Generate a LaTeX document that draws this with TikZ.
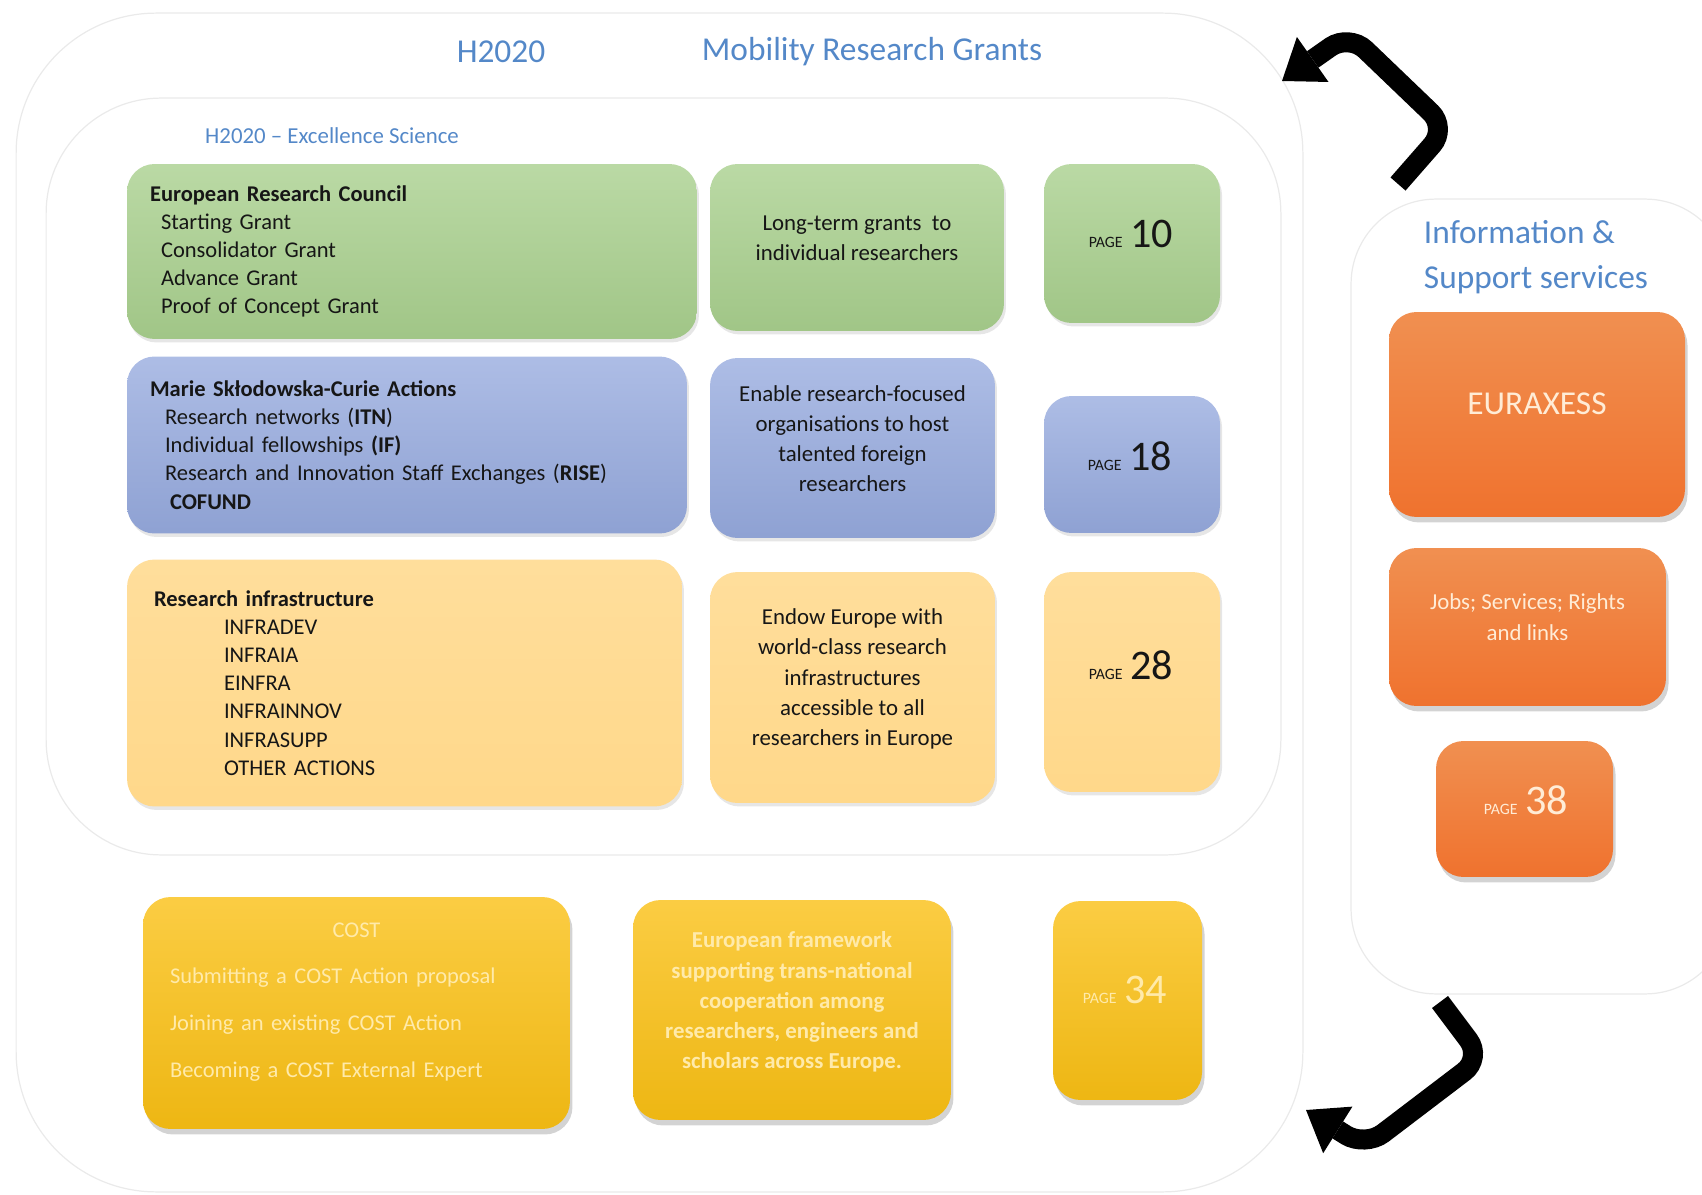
\documentclass[tikz,border=0pt]{standalone}
\usepackage{fontspec}
\setmainfont{Carlito}
\usetikzlibrary{arrows.meta,shadows}
\definecolor{titleblue}{RGB}{84,136,200}
\definecolor{framegray}{RGB}{234,234,234}
\definecolor{inkdark}{RGB}{22,22,22}
\definecolor{ercgreen}{RGB}{169,208,142}
\definecolor{mscablue}{RGB}{150,170,222}
\definecolor{infrayellow}{RGB}{255,216,138}
\definecolor{costgold}{RGB}{250,192,20}
\definecolor{euraxorange}{RGB}{238,124,50}
\definecolor{creamtxt}{RGB}{255,236,214}
\definecolor{costtxt}{RGB}{255,234,170}

\newcommand{\pagetag}[1]{{\fontsize{9}{10}\selectfont PAGE}\hspace{0.16cm}{\fontsize{24}{26}\selectfont #1}}

\begin{document}
\begin{tikzpicture}[x=0.02cm, y=-0.02cm,
    panel/.style={draw=framegray, line width=0.7pt},
    card/.style={rounded corners=0.55cm, inner sep=0pt,
      drop shadow={opacity=0.2, shadow xshift=0.04cm, shadow yshift=-0.07cm}},
    deepcard/.style={rounded corners=0.55cm, inner sep=0pt,
      drop shadow={opacity=0.35, shadow xshift=0.05cm, shadow yshift=-0.11cm}},
    listcard/.style={card, align=left, inner xsep=0.46cm, text=inkdark, font=\fontsize{12.8}{16}\selectfont},
    desctxt/.style={align=center, text=inkdark, font=\fontsize{13}{17.2}\selectfont},
    ercfill/.style={top color=ercgreen!80!white, bottom color=ercgreen!95!black},
    mscafill/.style={top color=mscablue!78!white, bottom color=mscablue!95!black},
    infrafill/.style={top color=infrayellow!85!white, bottom color=infrayellow},
    costfill/.style={top color=costgold!80!white, bottom color=costgold!95!black},
    euraxfill/.style={top color=euraxorange!85!white, bottom color=euraxorange!92!red},
    titletxt/.style={text=titleblue, font=\fontsize{19}{26}\selectfont},
    turnarrow/.style={line width=0.4cm, rounded corners=0.45cm,
      -{Triangle[length=0.75cm, width=1.1cm, line width=0pt]}}]
  \useasboundingbox (0,0) rectangle (1702,1195);

  % Outer frames
  \node[panel, rounded corners=2.8cm, minimum width=25.74cm, minimum height=23.58cm] (mobility) at (659.5,602.5) {};
  \node[panel, rounded corners=2.3cm, minimum width=24.7cm, minimum height=15.14cm] (excellence) at (663.5,476.5) {};
  \node[panel, rounded corners=1.7cm, minimum width=7.58cm, minimum height=15.9cm] (support) at (1540.5,596.5) {};

  % Titles
  \node[titletxt] (h2020) at (501,52) {H2020};
  \node[titletxt] (mrg) at (872,52) {Mobility Research Grants};
  \node[text=titleblue, font=\fontsize{13}{15}\selectfont] (exsci) at (332,136) {H2020 – Excellence Science};
  \node[titletxt, align=left] (info) at (1536,257) {Information \&\\Support services};

  % European Research Council
  \node[listcard, ercfill, minimum width=11.4cm, minimum height=3.5cm, text width=10.48cm] (erc) at (412,251.5)
    {\textbf{European Research Council}\\
     \hspace*{0.22cm}Starting Grant\\
     \hspace*{0.22cm}Consolidator Grant\\
     \hspace*{0.22cm}Advance Grant\\
     \hspace*{0.22cm}Proof of Concept Grant};
  \node[card, ercfill, minimum width=5.88cm, minimum height=3.34cm] (ercdesc) at (857,247.5) {};
  \node[desctxt] (ercdesctxt) at (857,238) {Long-term grants~ to\\individual researchers};
  \node[card, ercfill, minimum width=3.52cm, minimum height=3.18cm] (pg10) at (1132,243.5) {};
  \node[text=inkdark] (pg10num) at (1131,234) {\pagetag{10}};

  % Marie Sklodowska-Curie
  \node[listcard, mscafill, minimum width=11.2cm, minimum height=3.54cm, text width=10.28cm] (msca) at (407,445)
    {\textbf{Marie Skłodowska-Curie Actions}\\
     \hspace*{0.3cm}Research networks (\textbf{ITN})\\
     \hspace*{0.3cm}Individual fellowships \textbf{(IF)}\\
     \hspace*{0.3cm}Research and Innovation Staff Exchanges (\textbf{RISE})\\
     \hspace*{0.4cm}\textbf{COFUND}};
  \node[card, mscafill, minimum width=5.7cm, minimum height=3.6cm] (mscadesc) at (852.5,448) {};
  \node[desctxt] (mscadesctxt) at (852.5,438.5) {Enable research-focused\\organisations to host\\talented foreign\\researchers};
  \node[card, mscafill, minimum width=3.52cm, minimum height=2.74cm] (pg18) at (1132,464.5) {};
  \node[text=inkdark] (pg18num) at (1130,456) {\pagetag{18}};

  % Research infrastructure
  \node[listcard, infrafill, minimum width=11.1cm, minimum height=4.94cm, text width=10.18cm] (infra) at (404.5,683)
    {\hspace*{0.08cm}\textbf{Research infrastructure}\\
     \hspace*{1.48cm}INFRADEV\\
     \hspace*{1.48cm}INFRAIA\\
     \hspace*{1.48cm}EINFRA\\
     \hspace*{1.48cm}INFRAINNOV\\
     \hspace*{1.48cm}INFRASUPP\\
     \hspace*{1.48cm}OTHER ACTIONS};
  \node[card, infrafill, minimum width=5.7cm, minimum height=4.62cm] (infradesc) at (852.5,687.5) {};
  \node[desctxt] (infradesctxt) at (852.5,679) {Endow Europe with\\world-class research\\infrastructures\\accessible to all\\researchers in Europe};
  \node[card, infrafill, minimum width=3.52cm, minimum height=4.4cm] (pg28) at (1132,682) {};
  \node[text=inkdark] (pg28num) at (1131,665) {\pagetag{28}};

  % COST
  \node[deepcard, costfill, minimum width=8.54cm, minimum height=4.64cm] (cost) at (356.5,1013) {};
  \node[align=left, text=costtxt, text width=7.46cm, font=\fontsize{12.8}{26.7}\selectfont] (costtxt) at (356.5,1002)
    {\makebox[7.46cm]{COST}\\
     Submitting a COST Action proposal\\
     Joining an existing COST Action\\
     Becoming a COST External Expert};
  \node[deepcard, costfill, minimum width=6.36cm, minimum height=4.4cm] (costdesc) at (792,1010) {};
  \node[desctxt, text=costtxt, font=\bfseries\fontsize{13}{17.2}\selectfont] (costdesctxt) at (792,1002)
    {European framework\\supporting trans-national\\cooperation among\\researchers, engineers and\\scholars across Europe.};
  \node[deepcard, costfill, minimum width=2.98cm, minimum height=3.98cm] (pg34) at (1127.5,1000.5) {};
  \node[text=costtxt] (pg34num) at (1125,990) {\pagetag{34}};

  % EURAXESS
  \node[deepcard, euraxfill, minimum width=5.92cm, minimum height=4.1cm] (euraxess) at (1537,414.5) {};
  \node[text=creamtxt, font=\fontsize{19}{22}\selectfont] (euraxesstxt) at (1537,404) {EURAXESS};
  \node[deepcard, euraxfill, minimum width=5.54cm, minimum height=3.16cm] (jobs) at (1527.5,627) {};
  \node[text=creamtxt, align=center, font=\fontsize{13}{17.5}\selectfont] (jobstxt) at (1527.5,617) {Jobs; Services; Rights\\and links};
  \node[deepcard, euraxfill, minimum width=3.54cm, minimum height=2.72cm] (pg38) at (1524.5,809) {};
  \node[text=creamtxt] (pg38num) at (1526,800) {\pagetag{38}};

  % Turn arrows
  \coordinate (upfrom) at (1398,184);
  \coordinate (upto) at (1282,81);
  \coordinate (downfrom) at (1440,1002);
  \coordinate (downto) at (1306,1110);
  \draw[turnarrow] (upfrom) -- (1447,128) -- (1349,34) -- (upto);
  \draw[turnarrow] (downfrom) -- (1482,1058) -- (1365,1147) -- (downto);
\end{tikzpicture}
\end{document}
